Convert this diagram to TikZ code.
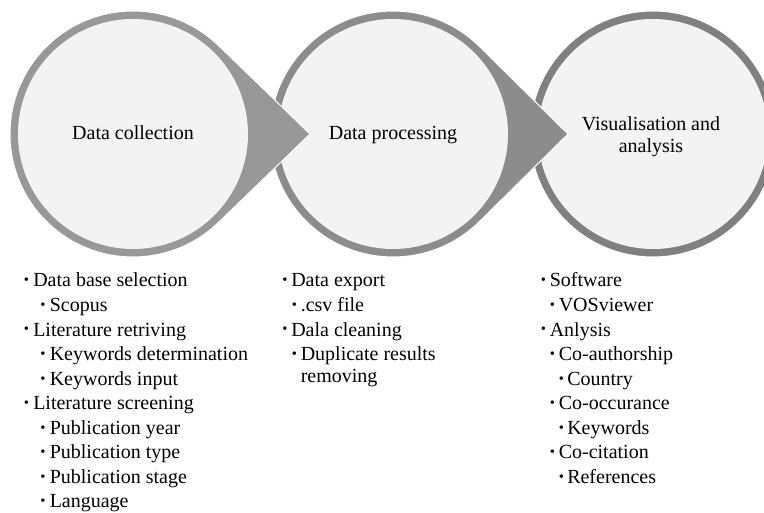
\documentclass[tikz,border=0pt]{standalone}
\usepackage{fontspec}
\setmainfont{Liberation Serif}
\definecolor{ringA}{RGB}{152,152,152}
\definecolor{ringB}{RGB}{140,140,140}
\definecolor{ringC}{RGB}{128,128,128}
\definecolor{innerfill}{RGB}{243,243,243}
\begin{document}
\begin{tikzpicture}[x=0.75pt,y=-0.75pt,
  inner/.style={circle,fill=innerfill,draw=none,inner sep=0pt,minimum size=172.5pt},
  ttl/.style={anchor=base,inner sep=0pt,align=center,font=\fontsize{15}{16.5}\selectfont},
  itm/.style={anchor=base west,inner sep=0pt,font=\fontsize{15}{18}\selectfont},
  bul/.style={anchor=base,inner sep=0pt,font=\fontsize{11}{11}\selectfont}]
\useasboundingbox (0,0) rectangle (764,513);
% centres and arrow tips
\coordinate (c1) at (133,134);
\coordinate (c2) at (393,134);
\coordinate (c3) at (653,134);
\coordinate (t1) at (310,134);
\coordinate (t2) at (568,134);
\pgfmathsetmacro{\angA}{acos(123/177)}
\pgfmathsetmacro{\angB}{acos(123/175)}
% circle 3
\fill[ringC,draw=white,line width=0.75pt] (c3) circle[radius=92.25pt];
\node[inner] (n3) at (c3) {};
% circle 2 with arrow
\path[fill=ringB,draw=white,line width=0.75pt] (c2) ++(\angB:92.25pt)
  arc[start angle=\angB,end angle={360-\angB},radius=92.25pt] -- (t2) -- cycle;
\node[inner] (n2) at (c2) {};
% circle 1 with arrow
\path[fill=ringA,draw=white,line width=0.75pt] (c1) ++(\angA:92.25pt)
  arc[start angle=\angA,end angle={360-\angA},radius=92.25pt] -- (t1) -- cycle;
\node[inner] (n1) at (c1) {};
% titles
\node[ttl] (h1) at (133,140) {Data collection};
\node[ttl] (h2) at (393,140) {Data processing};
\node[ttl] (h3a) at (651,131) {Visualisation and};
\node[ttl] (h3b) at (651,153) {analysis};
% column 1
\node[bul] (a1b) at (26.5,285) {\textbullet};
\node[itm] (a1) at (33,287) {Data base selection};
\node[bul] (a2b) at (43,309.5) {\textbullet};
\node[itm] (a2) at (49.5,311.5) {Scopus};
\node[bul] (a3b) at (26.5,334) {\textbullet};
\node[itm] (a3) at (33,336) {Literature retriving};
\node[bul] (a4b) at (43,358.5) {\textbullet};
\node[itm] (a4) at (49.5,360.5) {Keywords determination};
\node[bul] (a5b) at (43,383) {\textbullet};
\node[itm] (a5) at (49.5,385) {Keywords input};
\node[bul] (a6b) at (26.5,407.5) {\textbullet};
\node[itm] (a6) at (33,409.5) {Literature screening};
\node[bul] (a7b) at (43,432) {\textbullet};
\node[itm] (a7) at (49.5,434) {Publication year};
\node[bul] (a8b) at (43,456.5) {\textbullet};
\node[itm] (a8) at (49.5,458.5) {Publication type};
\node[bul] (a9b) at (43,481) {\textbullet};
\node[itm] (a9) at (49.5,483) {Publication stage};
\node[bul] (a10b) at (43,505.5) {\textbullet};
\node[itm] (a10) at (49.5,507.5) {Language};
% column 2
\node[bul] (p1b) at (285,285) {\textbullet};
\node[itm] (p1) at (291,287) {Data export};
\node[bul] (p2b) at (294.5,309.5) {\textbullet};
\node[itm] (p2) at (300.5,311.5) {.csv file};
\node[bul] (p3b) at (285,334) {\textbullet};
\node[itm] (p3) at (291,336) {Dala cleaning};
\node[bul] (p4b) at (294.5,358.5) {\textbullet};
\node[itm] (p4) at (300.5,360.5) {Duplicate results};
\node[itm] (p5) at (300.5,382.5) {removing};
% column 3
\node[bul] (v1b) at (543.5,285) {\textbullet};
\node[itm] (v1) at (549.5,287) {Software};
\node[bul] (v2b) at (552.5,309.5) {\textbullet};
\node[itm] (v2) at (558.5,311.5) {VOSviewer};
\node[bul] (v3b) at (543.5,334) {\textbullet};
\node[itm] (v3) at (549.5,336) {Anlysis};
\node[bul] (v4b) at (552.5,358.5) {\textbullet};
\node[itm] (v4) at (558.5,360.5) {Co-authorship};
\node[bul] (v5b) at (561.5,383) {\textbullet};
\node[itm] (v5) at (567,385) {Country};
\node[bul] (v6b) at (552.5,407.5) {\textbullet};
\node[itm] (v6) at (558.5,409.5) {Co-occurance};
\node[bul] (v7b) at (561.5,432) {\textbullet};
\node[itm] (v7) at (567,434) {Keywords};
\node[bul] (v8b) at (552.5,456.5) {\textbullet};
\node[itm] (v8) at (558.5,458.5) {Co-citation};
\node[bul] (v9b) at (561.5,481) {\textbullet};
\node[itm] (v9) at (567,483) {References};
\end{tikzpicture}
\end{document}
